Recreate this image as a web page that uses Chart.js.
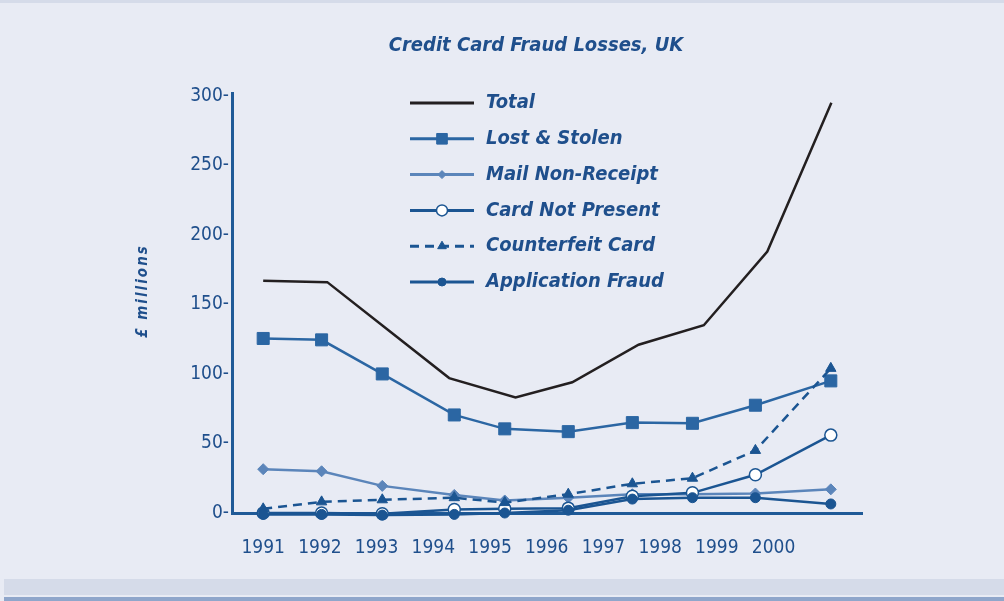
<!DOCTYPE html>
<html>
<head>
<meta charset="utf-8">
<title>Credit Card Fraud Losses, UK</title>
<script src="https://cdn.jsdelivr.net/npm/chart.js@4.4.1/dist/chart.umd.min.js"></script>
<style>
  html, body { margin: 0; padding: 0; background: #e8ebf4; }
  #wrap { width: 1004px; height: 601px; position: relative; }
</style>
</head>
<body>
<div id="wrap"><canvas id="fraudChart"></canvas></div>
<script>
/* ---------- DATA ---------- */
const chartTitle = "Credit Card Fraud Losses, UK";
const yTitle = "£ millions";
const yearLabels = [1991, 1992, 1993, 1994, 1995, 1996, 1997, 1998, 1999, 2000];
const yTicks = [0, 50, 100, 150, 200, 250, 300];

// x positions of the plotted points, in years (the markers sit off the year labels)
const totalYears = [1991, 1992.13, 1993.22, 1994.28, 1995.45, 1996.45, 1997.62, 1998.77, 1999.89, 2001.02];
const pointYears = [1991, 1992.03, 1993.10, 1994.37, 1995.26, 1996.38, 1997.51, 1998.57, 1999.68, 2001.01];

const totalLosses = [167, 166, 131, 97, 83, 94, 121, 135, 188, 295];
const lostStolen = [125.5, 124.5, 100, 70.5, 60.5, 58.5, 65, 64.5, 77.5, 95];
const mailNonReceipt = [31.5, 30, 19.5, 13, 9, 11, 13.5, 13.5, 14, 17];
const cardNotPresent = [0, 0, -0.5, 2.5, 3, 3.5, 12, 14.5, 27.5, 56];
const counterfeitCard = [3, 8, 9.5, 11, 7.5, 13.5, 21, 25, 45, 104];
const applicationFraud = [-1, -1, -1.5, -1, 0, 2, 10, 11, 11, 6.5];

/* ---------- STYLE ---------- */
const FONT = "'Liberation Sans Narrow', 'DejaVu Sans Condensed', 'Arial Narrow', sans-serif";
const AXIS_BLUE = "#1f5a97";
const TEXT_BLUE = "#1f4f8c";
const DARK_BLUE = "#1b5592";

function pts(xs, ys) {
  return ys.map((v, i) => ({ x: xs[i], y: v }));
}

/* ---------- PLUGINS ---------- */
const backdrop = {
  id: "backdrop",
  beforeDraw(chart) {
    const { ctx, width, height } = chart;
    ctx.save();
    ctx.fillStyle = "#e8ebf4";
    ctx.fillRect(0, 0, width, height);
    ctx.fillStyle = "#d5dbe9";
    ctx.fillRect(0, 0, width, 3);
    ctx.fillRect(4, 579, width - 4, 16);
    ctx.fillStyle = "#8fa6cb";
    ctx.fillRect(4, 597, width - 4, 4);

    // chart title
    ctx.fillStyle = TEXT_BLUE;
    ctx.font = "italic bold 20px " + FONT;
    ctx.textAlign = "center";
    ctx.textBaseline = "middle";
    ctx.fillText(chartTitle, 536, 46);
    ctx.restore();
  }
};

const legendMarkers = [
  null,
  { pointStyle: "rect", radius: 7.5 },
  { pointStyle: "rectRot", radius: 4 },
  { pointStyle: "circle", radius: 5.5 },
  { pointStyle: "triangle", radius: 5 },
  { pointStyle: "circle", radius: 4 }
];

const sideLegend = {
  id: "sideLegend",
  afterDraw(chart) {
    const { ctx } = chart;
    ctx.save();
    chart.data.datasets.forEach((ds, i) => {
      const y = 103 + i * 35.8;
      ctx.strokeStyle = ds.borderColor;
      ctx.lineWidth = 3;
      ctx.setLineDash(ds.borderDash || []);
      ctx.beginPath();
      ctx.moveTo(410, y);
      ctx.lineTo(474, y);
      ctx.stroke();
      ctx.setLineDash([]);
      const m = legendMarkers[i];
      if (m) {
        ctx.fillStyle = ds.pointBackgroundColor;
        ctx.strokeStyle = ds.pointBorderColor;
        ctx.lineWidth = ds.pointBorderWidth;
        Chart.helpers.drawPoint(ctx, { pointStyle: m.pointStyle, radius: m.radius, rotation: 0, borderWidth: ds.pointBorderWidth }, 442, y);
      }
      ctx.fillStyle = TEXT_BLUE;
      ctx.font = "italic bold 20px " + FONT;
      ctx.textBaseline = "middle";
      ctx.textAlign = "left";
      ctx.fillText(ds.label, 486, y);
    });

    // y axis title
    ctx.translate(143, 291);
    ctx.rotate(-Math.PI / 2);
    ctx.font = "italic bold 15px " + FONT;
    ctx.letterSpacing = "2px";
    ctx.textAlign = "center";
    ctx.textBaseline = "middle";
    ctx.fillStyle = TEXT_BLUE;
    ctx.fillText(yTitle, 0, 0);
    ctx.restore();
  }
};

/* ---------- CHART ---------- */
const ctx = document.getElementById("fraudChart").getContext("2d");

new Chart(ctx, {
  type: "line",
  data: {
    datasets: [
      {
        label: "Total",
        data: pts(totalYears, totalLosses),
        order: 5,
        borderColor: "#231f20",
        borderWidth: 2.5,
        pointRadius: 0,
        pointBackgroundColor: "#231f20",
        pointBorderColor: "#231f20",
        pointBorderWidth: 0
      },
      {
        label: "Lost & Stolen",
        data: pts(pointYears, lostStolen),
        order: 4,
        borderColor: "#2b66a3",
        borderWidth: 2.5,
        pointStyle: "rect",
        pointRadius: 8.5,
        pointBackgroundColor: "#2b66a3",
        pointBorderColor: "#2b66a3",
        pointBorderWidth: 1
      },
      {
        label: "Mail Non-Receipt",
        data: pts(pointYears, mailNonReceipt),
        order: 3,
        borderColor: "#5b85ba",
        borderWidth: 2.5,
        pointStyle: "rectRot",
        pointRadius: 5.5,
        pointBackgroundColor: "#5b85ba",
        pointBorderColor: "#5b85ba",
        pointBorderWidth: 1
      },
      {
        label: "Card Not Present",
        data: pts(pointYears, cardNotPresent),
        order: 2,
        borderColor: DARK_BLUE,
        borderWidth: 2.5,
        pointStyle: "circle",
        pointRadius: 6,
        pointBackgroundColor: "#ffffff",
        pointBorderColor: DARK_BLUE,
        pointBorderWidth: 1.5
      },
      {
        label: "Counterfeit Card",
        data: pts(pointYears, counterfeitCard),
        order: 1,
        borderColor: DARK_BLUE,
        borderWidth: 2.5,
        borderDash: [9, 6],
        pointStyle: "triangle",
        pointRadius: 6,
        pointBackgroundColor: DARK_BLUE,
        pointBorderColor: DARK_BLUE,
        pointBorderWidth: 1
      },
      {
        label: "Application Fraud",
        data: pts(pointYears, applicationFraud),
        order: 0,
        borderColor: DARK_BLUE,
        borderWidth: 2.5,
        pointStyle: "circle",
        pointRadius: 5,
        pointBackgroundColor: DARK_BLUE,
        pointBorderColor: DARK_BLUE,
        pointBorderWidth: 1
      }
    ]
  },
  options: {
    responsive: true,
    maintainAspectRatio: false,
    devicePixelRatio: 1,
    animation: false,
    clip: false,
    layout: { padding: { left: 0, right: 142, top: 93, bottom: 0 } },
    plugins: {
      legend: { display: false },
      tooltip: { enabled: false },
      title: { display: false }
    },
    scales: {
      x: {
        type: "linear",
        min: 1990.45,
        max: 2001.56,
        grid: { display: false, drawTicks: false },
        border: { display: true, color: AXIS_BLUE, width: 3 },
        afterBuildTicks(scale) {
          scale.ticks = yearLabels.map(v => ({ value: v }));
        },
        afterFit(scale) {
          scale.height = 88;
        },
        ticks: {
          autoSkip: false,
          maxRotation: 0,
          padding: 24,
          color: TEXT_BLUE,
          font: { family: FONT, size: 19 },
          callback: v => String(v)
        }
      },
      y: {
        min: 0,
        max: 302,
        grid: { display: false, drawTicks: false },
        border: { display: true, color: AXIS_BLUE, width: 3 },
        afterBuildTicks(scale) {
          scale.ticks = yTicks.map(v => ({ value: v }));
        },
        afterFit(scale) {
          scale.width = 232;
        },
        ticks: {
          padding: 3,
          color: TEXT_BLUE,
          font: { family: FONT, size: 19 },
          callback: v => v + "-"
        }
      }
    }
  },
  plugins: [backdrop, sideLegend]
});
</script>
</body>
</html>
